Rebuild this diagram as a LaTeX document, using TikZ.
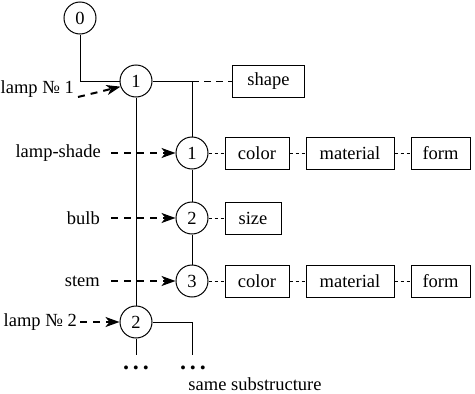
\documentclass[tikz,border=0pt]{standalone}
\usepackage{fontspec}
\setmainfont{LiberationSerif}[Extension=.ttf, UprightFont=*-Regular, BoldFont=*-Bold]
\usetikzlibrary{arrows.meta,positioning}

\begin{document}
\begin{tikzpicture}[
  x=1pt, y=-1pt,
  every node/.style={font=\fontsize{18.5}{22}\selectfont},
  part/.style={draw, circle, minimum size=32pt, inner sep=0pt, line width=1pt},
  prop/.style={draw, rectangle, minimum height=32pt, inner sep=0pt, line width=1pt},
  lbl/.style={inner sep=0pt, anchor=east},
  arr/.style={-{Stealth[length=14pt, width=10pt, inset=4pt]}, line width=2pt,
              dash pattern=on 7pt off 6pt},
  link/.style={line width=1pt},
  attr/.style={line width=1pt, dash pattern=on 3pt off 3pt},
  wide/.style={line width=1pt, dash pattern=on 7pt off 5pt},
  dots/.style={font=\bfseries\fontsize{24}{26}\selectfont, anchor=base, inner sep=0pt}
]
\useasboundingbox (0,0) rectangle (475,394);

% Parts
\node[part] (root) at (80,18) {0};
\node[part] (lamp1) at (136,81) {1};
\node[part] (shade) at (192,153) {1};
\node[part] (bulb) at (192,218) {2};
\node[part] (stem) at (192,281) {3};
\node[part] (lamp2) at (136,322) {2};
\coordinate (fork) at (shade |- lamp1);
\coordinate (tail1) at (136,355);
\coordinate (tail2) at (192,355);

% Properties
\node[prop, minimum width=72pt, right=40pt of fork] (shapebox) {shape};
\node[prop, minimum width=64pt, right=16pt of shade] (shadecolor) {color};
\node[prop, minimum width=88pt, right=16pt of shadecolor] (shadematerial) {material};
\node[prop, minimum width=59pt, right=16pt of shadematerial] (shadeform) {form};
\node[prop, minimum width=56pt, right=16pt of bulb] (bulbsize) {size};
\node[prop, minimum width=64pt, right=16pt of stem] (stemcolor) {color};
\node[prop, minimum width=88pt, right=16pt of stemcolor] (stemmaterial) {material};
\node[prop, minimum width=59pt, right=16pt of stemmaterial] (stemform) {form};

% Labels
\node[lbl] (lamp1lbl) at (74,89) {lamp № 1};
\node[lbl] (shadelbl) at (101,153) {lamp-shade};
\node[lbl] (bulblbl) at (100,218) {bulb};
\node[lbl] (stemlbl) at (100,281) {stem};
\node[lbl] (lamp2lbl) at (77,322) {lamp № 2};
\node[dots] (dots1) at (136,369) {.\,.\,.};
\node[dots] (dots2) at (193,369) {.\,.\,.};
\node[anchor=base, inner sep=0pt] (same) at (255,390) {same substructure};

% Tree
\draw[link] (root) |- (lamp1);
\draw[link] (lamp1) -- (fork) -- (shade) -- (bulb) -- (stem);
\draw[link] (lamp1) -- (lamp2);
\draw[link] (lamp2) -- (tail1);
\draw[link] (lamp2) -| (tail2);

% Attributes
\draw[wide] (fork) -- (shapebox);
\draw[attr] (shade) -- (shadecolor) -- (shadematerial) -- (shadeform);
\draw[attr] (bulb) -- (bulbsize);
\draw[attr] (stem) -- (stemcolor) -- (stemmaterial) -- (stemform);

% Pointers
\draw[arr] ([xshift=4pt, yshift=-8pt]lamp1lbl.east) -- (lamp1.200);
\draw[arr] ([xshift=10pt]shadelbl.east) -- (shade);
\draw[arr] ([xshift=11pt]bulblbl.east) -- (bulb);
\draw[arr] ([xshift=11pt]stemlbl.east) -- (stem);
\draw[arr] ([xshift=3pt]lamp2lbl.east) -- (lamp2);
\end{tikzpicture}
\end{document}
